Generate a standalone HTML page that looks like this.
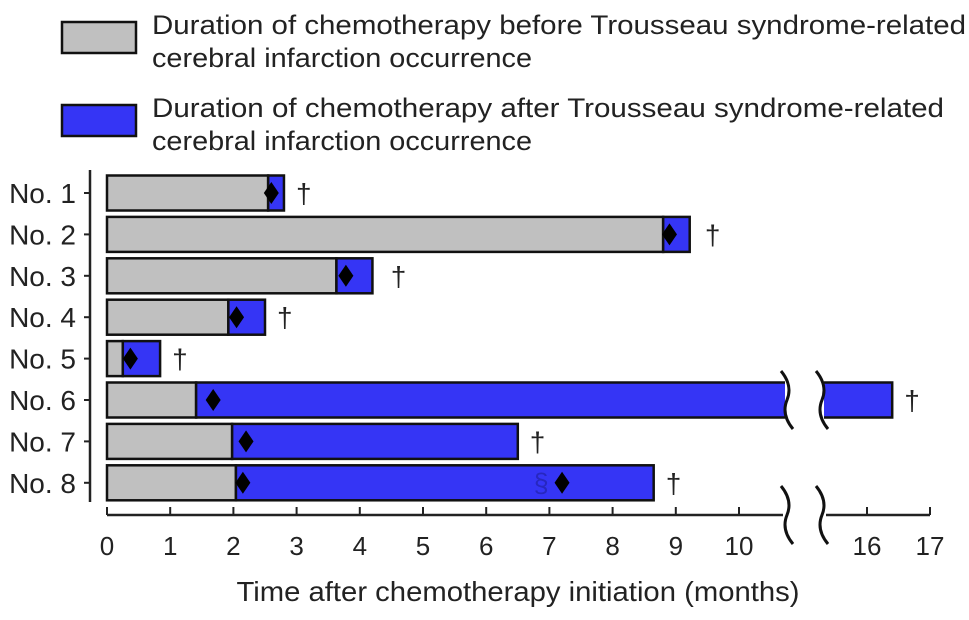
<!DOCTYPE html>
<html><head><meta charset="utf-8"><style>
html,body{margin:0;padding:0;background:#fff;}
svg{display:block;font-family:"Liberation Sans",Arial,sans-serif;}
</style></head><body>
<svg id="chart" width="969" height="620" viewBox="0 0 969 620">
  <g>
    <rect x="62" y="22" width="74" height="31" fill="#c0c0c0" stroke="#111" stroke-width="2.5"/>
    <text x="152" y="34" font-size="27" fill="#222" textLength="814" lengthAdjust="spacingAndGlyphs">Duration of chemotherapy before Trousseau syndrome-related</text>
    <text x="152" y="67" font-size="27" fill="#222" textLength="380" lengthAdjust="spacingAndGlyphs">cerebral infarction occurrence</text>
    <rect x="62" y="105" width="74" height="31" fill="#3535f5" stroke="#111" stroke-width="2.5"/>
    <text x="152" y="117" font-size="27" fill="#222" textLength="792" lengthAdjust="spacingAndGlyphs">Duration of chemotherapy after Trousseau syndrome-related</text>
    <text x="152" y="150" font-size="27" fill="#222" textLength="380" lengthAdjust="spacingAndGlyphs">cerebral infarction occurrence</text>
  </g>
  <g id="plot"></g>
  <text x="518" y="601" font-size="28" fill="#222" text-anchor="middle" textLength="563" lengthAdjust="spacingAndGlyphs">Time after chemotherapy initiation (months)</text>
</svg>
<script>
const patients = ["No. 1","No. 2","No. 3","No. 4","No. 5","No. 6","No. 7","No. 8"];
const beforeDur = [2.55, 8.8, 3.63, 1.92, 0.25, 1.41, 1.98, 2.04];
const totalDur = [2.8, 9.22, 4.2, 2.5, 0.84, 16.4, 6.5, 8.65];
const diamonds = [[2.6],[8.9],[3.78],[2.05],[0.37],[1.68],[2.2],[2.15,7.2]];
const sectionMarks = [null,null,null,null,null,null,null,6.87];
const daggerOffsets = [0.25,0.3,0.35,0.25,0.25,0.25,0.25,0.25];
const xTicks = [0,1,2,3,4,5,6,7,8,9,10,16,17];

const NS = "http://www.w3.org/2000/svg";
const plot = document.getElementById("plot");
const BLUE = "#3535f5", GRAY = "#c0c0c0";
function xs(v){ return v <= 12 ? 107 + 63.2 * v : 867 + 63 * (v - 16); }
function ys(i){ return 193 + i * 41.4; }
const BH = 35, BREAK_L = 787, BREAK_R = 822;
function mk(tag, attrs, parent){
  const e = document.createElementNS(NS, tag);
  for (const k in attrs) e.setAttribute(k, attrs[k]);
  (parent || plot).appendChild(e);
  return e;
}
let yl = mk("line",{x1:90,y1:170,x2:90,y2:502,stroke:"#222","stroke-width":2.5});


patients.forEach((p,i)=>{
  const y = ys(i);
  const t = mk("line",{x1:84,y1:y,x2:90,y2:y,stroke:"#222","stroke-width":2});
  
  
  const lb = mk("text",{x:76,y:y+10,"font-size":28,"text-anchor":"end",fill:"#222"});
  lb.textContent = p;
  
  
});
const axY = 515;
let xl1 = mk("line",{x1:107,y1:axY,x2:BREAK_L-4,y2:axY,stroke:"#222","stroke-width":2.5});


let xl2 = mk("line",{x1:BREAK_R+4,y1:axY,x2:930,y2:axY,stroke:"#222","stroke-width":2.5});


xTicks.forEach(v=>{
  const x = xs(v);
  const t = mk("line",{x1:x,y1:axY,x2:x,y2:axY-8,stroke:"#222","stroke-width":2});
  
  
  const lb = mk("text",{x:x,y:555,"font-size":26,"text-anchor":"middle",fill:"#222"});
  lb.textContent = v;
  
  
});
function brace(x, yc, h){
  const p = mk("path",{d:`M${x-6},${yc-h/2} Q${x+6},${yc-h/4} ${x},${yc} Q${x-6},${yc+h/4} ${x+6},${yc+h/2}`,fill:"none",stroke:"#111","stroke-width":3});
  
  
}
brace(BREAK_L, axY, 58); brace(BREAK_R, axY, 58);
patients.forEach((p,i)=>{
  const y = ys(i) - BH/2;
  const g = xs(beforeDur[i]);
  const gr = mk("rect",{x:107,y:y,width:g-107,height:BH,fill:GRAY,stroke:"#111","stroke-width":2.5});
  
  
  const tot = totalDur[i];
  let endX;
  if (tot > 12){
    const b1 = mk("rect",{x:g,y:y,width:BREAK_L-g,height:BH,fill:BLUE,stroke:"#111","stroke-width":2.5});
    
    
    endX = xs(tot);
    const b2 = mk("rect",{x:BREAK_R,y:y,width:endX-BREAK_R,height:BH,fill:BLUE,stroke:"#111","stroke-width":2.5});
    
    
    const w = mk("rect",{x:BREAK_L-2,y:y-3,width:BREAK_R-BREAK_L+4,height:BH+6,fill:"#fff"});
    
    
    brace(BREAK_L, ys(i), 58); brace(BREAK_R, ys(i), 58);
  } else {
    endX = xs(tot);
    const b = mk("rect",{x:g,y:y,width:endX-g,height:BH,fill:BLUE,stroke:"#111","stroke-width":2.5});
    
    
  }
  diamonds[i].forEach(dv=>{
    const dx = xs(dv), dy = ys(i);
    const d = mk("path",{d:`M${dx},${dy-11} L${dx+7.5},${dy} L${dx},${dy+11} L${dx-7.5},${dy} Z`,fill:"#000"});
    
    
  });
  if (sectionMarks[i] !== null){
    const s = mk("text",{x:xs(sectionMarks[i]),y:ys(i)+9,"font-size":27,"text-anchor":"middle",fill:"#2222aa",opacity:0.7});
    s.textContent = "§";
    
    
  }
  const dg = mk("text",{x:endX + daggerOffsets[i]*63.2 + 4,y:ys(i)+10,"font-size":28,"text-anchor":"middle",fill:"#222"});
  dg.textContent = "†";
  
  
});
</script>
</body></html>
